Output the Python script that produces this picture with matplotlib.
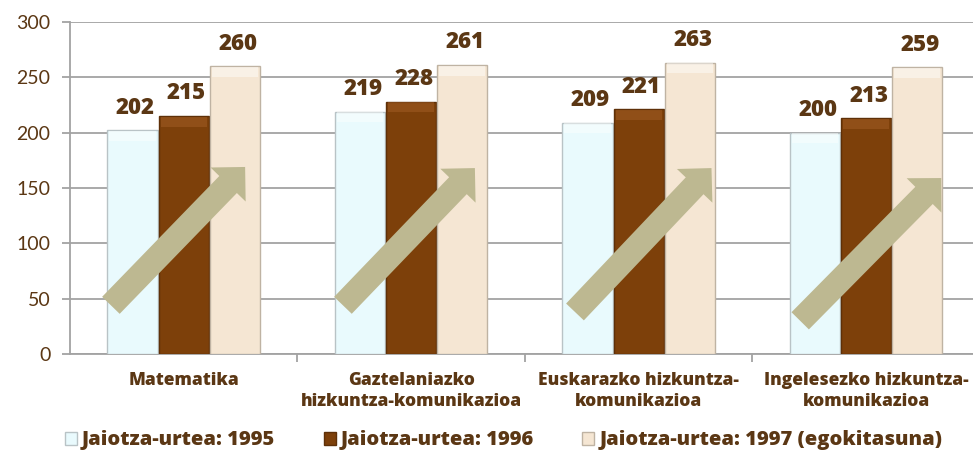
import numpy as np
import matplotlib.pyplot as plt
from matplotlib.patches import FancyArrowPatch, ArrowStyle, Patch

plt.rcParams['font.family'] = ['Open Sans', 'DejaVu Sans']

# data
subjects = ["Matematika",
            "Gaztelaniazko\nhizkuntza-komunikazioa",
            "Euskarazko hizkuntza-\nkomunikazioa",
            "Ingelesezko hizkuntza-\nkomunikazioa"]
series_names = ["Jaiotza-urtea: 1995",
                "Jaiotza-urtea: 1996",
                "Jaiotza-urtea: 1997 (egokitasuna)"]
y1995 = [202, 219, 209, 200]
y1996 = [215, 228, 221, 213]
y1997 = [260, 261, 263, 259]

colors = ['#E9FAFD', '#7D400A', '#F5E6D3']
tops = ['#FFFFFF', '#A8632A', '#FFFFFF']
edges = ['#B9C3C6', '#5E3008', '#BFB3A3']
txt = '#5B3714'
arrow_col = '#BDB891'

# arrow tail/head per group (x offset from centre, y value)
arrow_tail = [(-0.32, 44), (-0.30, 44), (-0.28, 38), (-0.29, 30)]
arrow_head = [(0.27, 169), (0.28, 168), (0.32, 168), (0.33, 159)]

fig = plt.figure(figsize=(9.73, 4.53), dpi=100)
ax = fig.add_axes([0.0719, 0.2185, 0.928, 0.733])

x = np.arange(len(subjects))
w = 0.22
step = 0.225
for i, vals in enumerate([y1995, y1996, y1997]):
    xs = x + (i - 1) * step
    ax.bar(xs, vals, w, color=colors[i], edgecolor=edges[i], linewidth=1.0,
           zorder=3, label=series_names[i])
    # soft highlight along the top of each bar
    ax.bar(xs, [9] * len(vals), w * 0.92, bottom=np.array(vals) - 9.5,
           color=tops[i], alpha=0.45, linewidth=0, zorder=4)
    for xx, v in zip(xs, vals):
        ax.annotate(str(v), (xx, v), xytext=(2, 12), textcoords='offset points',
                    ha='center', va='baseline', fontsize=16, fontweight=800,
                    color=txt, zorder=6)

for i in range(len(subjects)):
    tx, ty = arrow_tail[i]
    hx, hy = arrow_head[i]
    arr = FancyArrowPatch((i + tx, ty), (i + hx, hy),
                          arrowstyle=ArrowStyle.Simple(head_length=1.1, head_width=2.2,
                                                       tail_width=1.1),
                          mutation_scale=16, shrinkA=0, shrinkB=0,
                          color=arrow_col, linewidth=0, zorder=5)
    ax.add_patch(arr)

ax.set_xlim(-0.5, -0.5 + 903 / 227.5)
ax.set_ylim(0, 300)
ax.set_yticks(np.arange(0, 301, 50))
ax.yaxis.grid(True, color='#A3A3A3', linewidth=1.3, zorder=0)
ax.set_axisbelow(True)

ax.set_xticks(x)
ax.set_xticklabels(subjects, fontsize=12.5, fontweight=800, color=txt,
                   linespacing=1.3)
ax.set_xticks([0.5, 1.5, 2.5], minor=True)
ax.tick_params(axis='x', which='major', length=0, pad=13)
ax.tick_params(axis='x', which='minor', length=6, width=1.3, color='#A3A3A3')
ax.tick_params(axis='y', length=6, width=1.3, color='#A3A3A3', labelsize=14,
               labelcolor=txt, pad=8)
for lab in ax.get_yticklabels():
    lab.set_family(['Lato', 'DejaVu Sans'])

for s in ['top', 'right']:
    ax.spines[s].set_visible(False)
for s in ['left', 'bottom']:
    ax.spines[s].set_color('#A3A3A3')
    ax.spines[s].set_linewidth(1.3)

handles = [Patch(facecolor=colors[i], edgecolor=edges[i]) for i in range(3)]
fig.legend(handles, series_names, loc='lower left', bbox_to_anchor=(0.048, -0.034),
           ncol=3, frameon=False, handlelength=0.6, handleheight=0.6,
           handletextpad=0.25, columnspacing=2.4,
           prop={'size': 14.5, 'weight': 800}, labelcolor=txt)

fig.savefig('out.png', dpi=100)
